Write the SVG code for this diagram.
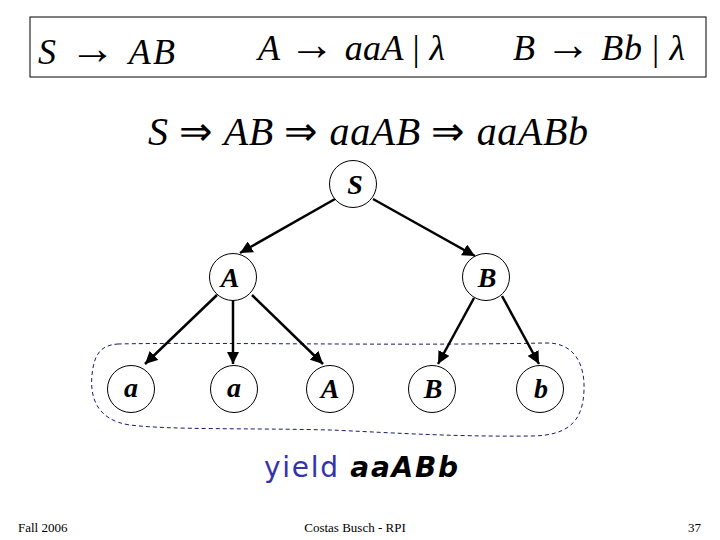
<svg xmlns="http://www.w3.org/2000/svg" width="720" height="540" viewBox="0 0 720 540">
<style>
.m{font-family:"Liberation Serif","Times New Roman",serif;font-style:italic;fill:#000}
.op{font-style:normal}
.ar{font-style:normal;font-size:46px}
.nd{fill:#fff;stroke:#000;stroke-width:1}
.lb{font-family:"Liberation Serif","Times New Roman",serif;font-style:italic;font-weight:bold;font-size:28px;text-anchor:middle;fill:#000}
.ft{font-family:"Liberation Serif","Times New Roman",serif;font-size:13px;fill:#000}
.ed{stroke:#000;stroke-width:2.5;fill:none;marker-end:url(#ah)}
</style>
<defs>
<marker id="ah" viewBox="0 0 10 10" refX="10" refY="5" markerWidth="5" markerHeight="5" orient="auto" markerUnits="strokeWidth">
<path d="M0,0 L10,5 L0,10 Z" fill="#000"/>
</marker>
</defs>
<rect width="720" height="540" fill="#fff"/>
<g id="grammar">
<rect x="30" y="17" width="676" height="60" fill="#fff" stroke="#000" stroke-width="1"/>
<text class="m" x="38" y="64" font-size="36" textLength="137" lengthAdjust="spacing">S <tspan class="ar">→</tspan> AB</text>
<text class="m" x="258" y="60" font-size="36" textLength="187" lengthAdjust="spacing">A <tspan class="ar">→</tspan> aaA <tspan class="op">|</tspan> λ</text>
<text class="m" x="513" y="60" font-size="36" textLength="172" lengthAdjust="spacing">B <tspan class="ar">→</tspan> Bb <tspan class="op">|</tspan> λ</text>
</g>
<g id="derivation">
<text class="m" x="148" y="145" font-size="40" textLength="440" lengthAdjust="spacing">S <tspan class="op">⇒</tspan> AB <tspan class="op">⇒</tspan> aaAB <tspan class="op">⇒</tspan> aaABb</text>
</g>
<g id="yield-region">
<path d="M118,344 C200,342 400,346 545,343 C575,342 585,365 584,390 C583,420 570,436 530,436 C450,437 380,432 330,430 C250,428 170,430 130,425 C95,420 90,395 92,375 C94,355 100,345 118,344 Z" fill="none" stroke="#1a1a6e" stroke-width="1" stroke-dasharray="4,3"/>
</g>
<g id="connectors">
<line class="ed" x1="335" y1="199" x2="240" y2="253"/>
<line class="ed" x1="373" y1="199" x2="475" y2="256"/>
<line class="ed" x1="217" y1="295" x2="145" y2="364"/>
<line class="ed" x1="233" y1="300" x2="233" y2="364"/>
<line class="ed" x1="252" y1="295" x2="323" y2="364"/>
<line class="ed" x1="474" y1="298" x2="438" y2="364"/>
<line class="ed" x1="502" y1="296" x2="539" y2="364"/>
</g>
<g id="node-S"><circle class="nd" cx="353" cy="184" r="23.5"/><text class="lb" x="355" y="194">S</text></g>
<g id="node-A"><circle class="nd" cx="233" cy="277" r="23.5"/><text class="lb" x="230" y="287">A</text></g>
<g id="node-B"><circle class="nd" cx="486" cy="277" r="23.5"/><text class="lb" x="487" y="287">B</text></g>
<g id="leaf-a1"><circle class="nd" cx="131" cy="389" r="23.5"/><text class="lb" x="131" y="397">a</text></g>
<g id="leaf-a2"><circle class="nd" cx="234" cy="389" r="23.5"/><text class="lb" x="234" y="397">a</text></g>
<g id="leaf-A"><circle class="nd" cx="330" cy="389" r="23.5"/><text class="lb" x="330" y="398">A</text></g>
<g id="leaf-B"><circle class="nd" cx="432" cy="389" r="23.5"/><text class="lb" x="433" y="398">B</text></g>
<g id="leaf-b"><circle class="nd" cx="540" cy="389" r="23.5"/><text class="lb" x="541" y="398">b</text></g>
<g id="yield-label">
<text x="264" y="477" font-family="'DejaVu Sans',sans-serif" font-size="28" fill="#3333aa" textLength="194" lengthAdjust="spacing">yield <tspan fill="#000" font-style="italic" font-weight="bold">aaABb</tspan></text>
</g>
<g id="footer">
<text class="ft" x="18" y="532">Fall 2006</text>
<text class="ft" x="355" y="532" text-anchor="middle">Costas Busch - RPI</text>
<text class="ft" x="701" y="532" text-anchor="end">37</text>
</g>
</svg>
